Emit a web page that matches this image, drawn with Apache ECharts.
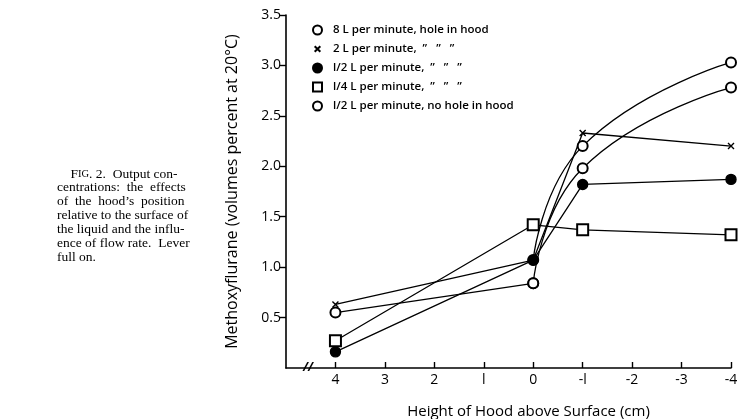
<!DOCTYPE html>
<html>
<head>
<meta charset="utf-8">
<script src="https://cdn.jsdelivr.net/npm/echarts@6/dist/echarts.min.js"></script>
<style>
html,body{margin:0;padding:0;background:#fff;}
#main{width:739px;height:419px;}
</style>
</head>
<body>
<div id="main"></div>
<script>
// Heights of hood above surface (cm)
const heights = [4, 0, -1, -4];
const xTickValues = [4, 3, 2, 1, 0, -1, -2, -3, -4];
const xTickLabels = ['4', '3', '2', 'l', '0', '-l', '-2', '-3', '-4'];
const yTickValues = [0.5, 1.0, 1.5, 2.0, 2.5, 3.0, 3.5];

const names = [
  '8 L per minute, hole in hood',
  '2 L per minute,  \u201D   \u201D   \u201D',
  'l/2 L per minute,  \u201D   \u201D   \u201D',
  'l/4 L per minute,  \u201D   \u201D   \u201D',
  'l/2 L per minute, no hole in hood'
];
const lpm8Hole    = [null, 1.07, 2.20, 3.03];
const lpm2Hole    = [0.63, 1.07, 2.33, 2.20];
const lpmHalfHole = [0.16, 1.07, 1.82, 1.87];
const lpmQtrHole  = [0.27, 1.42, 1.37, 1.32];
const lpmHalfNoHole = [0.55, 0.84, 1.98, 2.78];

const caption = [
  '    {sc|F}{sm|IG}{sc|. }{u|2}{sc|.  Output con-}',
  'centrations:  the  effects',
  'of  the  hood\u2019s  position',
  'relative to the surface of',
  'the liquid and the influ-',
  'ence of flow rate.  Lever',
  'full on.'
];

const FONT = 'Open Sans';
const toPairs = (vals, from, to) => heights.map((h, i) => [h, vals[i]])
  .slice(from || 0, to === undefined ? heights.length : to)
  .filter(p => p[1] !== null);
const xPath = 'path://M0,0L10,10M0,10L10,0';
const xLegendPath = 'path://M-3,-3M13,13M0,0L10,10M0,10L10,0';

function mk(name, data, symbol, size, smooth) {
  return {
    name: name, type: 'line', data: data,
    symbol: symbol, symbolSize: size, smooth: smooth,
    showAllSymbol: true,
    lineStyle: { color: '#000', width: 1.3 },
    itemStyle: { color: '#000', borderColor: '#000', borderWidth: 1.4 },
    z: 3
  };
}

const capFont = '"Liberation Serif"';
const chart = echarts.init(document.getElementById('main'));
chart.setOption({
  backgroundColor: '#fff',
  animation: false,
  textStyle: { fontFamily: FONT },
  grid: { left: 286, right: 8, top: 15, bottom: 51, containLabel: false, outerBoundsMode: 'none' },
  legend: {
    orient: 'vertical', left: 307, top: 19, itemGap: 7,
    itemWidth: 9, itemHeight: 9,
    textStyle: { fontFamily: FONT, fontSize: 11.5, color: '#000', fontWeight: 600, padding: [0, 0, 0, 6] },
    data: [
      { name: names[0], icon: 'emptyCircle' },
      { name: names[1], icon: xLegendPath },
      { name: names[2], icon: 'circle' },
      { name: names[3], icon: 'emptyRect' },
      { name: names[4], icon: 'emptyCircle' }
    ],
    selectedMode: false
  },
  xAxis: {
    type: 'value', inverse: true, min: -4, max: 5,
    name: 'Height of Hood above Surface (cm)', nameLocation: 'middle', nameGap: 36,
    nameTextStyle: { fontFamily: FONT, fontSize: 15, color: '#000', padding: [0, 0, 0, 40] },
    axisLine: { onZero: false, lineStyle: { color: '#000', width: 1.6 } },
    axisTick: { inside: true, length: 6, customValues: xTickValues, lineStyle: { color: '#000', width: 1.4 } },
    axisLabel: {
      customValues: xTickValues, margin: 5, fontFamily: FONT, fontSize: 14, color: '#000',
      formatter: v => xTickLabels[xTickValues.indexOf(v)]
    },
    splitLine: { show: false }
  },
  yAxis: {
    type: 'value', min: 0, max: 3.5,
    name: 'Methoxyflurane (volumes percent at 20\u00B0C)', nameLocation: 'middle', nameGap: 46,
    nameTextStyle: { fontFamily: FONT, fontSize: 16, color: '#000' },
    axisLine: { show: true, onZero: false, lineStyle: { color: '#000', width: 1.6 } },
    axisTick: { show: true, length: 6, customValues: yTickValues, lineStyle: { color: '#000', width: 1.4 } },
    axisLabel: {
      customValues: yTickValues, margin: 5, fontFamily: FONT, fontSize: 14, color: '#000',
      formatter: v => v.toFixed(1)
    },
    splitLine: { show: false }
  },
  graphic: [
    { type: 'text', left: 303, top: 362, style: { text: '//', font: 'italic bold 12px ' + FONT, fill: '#000' } },
    { type: 'text', left: 57, top: 167,
      style: {
        text: caption.join('\n'), font: '13.5px ' + capFont, lineHeight: 13.9, fill: '#000',
        rich: {
          sc: { font: '13.5px ' + capFont, lineHeight: 13.9 },
          sm: { font: '10.5px ' + capFont, lineHeight: 13.9 },
          u: { font: '13.5px ' + capFont, lineHeight: 13.9 }
        }
      } }
  ],
  series: [
    mk(names[0], toPairs(lpm8Hole), 'emptyCircle', 10, 0.5),
    mk(names[1], toPairs(lpm2Hole), xPath, 6, false),
    mk(names[2], toPairs(lpmHalfHole), 'circle', 10, false),
    mk(names[3], toPairs(lpmQtrHole), 'emptyRect', 11, false),
    mk(names[4], toPairs(lpmHalfNoHole, 0, 2), 'emptyCircle', 10, false),
    mk(names[4], toPairs(lpmHalfNoHole, 1), 'emptyCircle', 10, 0.5)
  ]
});
</script>
</body>
</html>
